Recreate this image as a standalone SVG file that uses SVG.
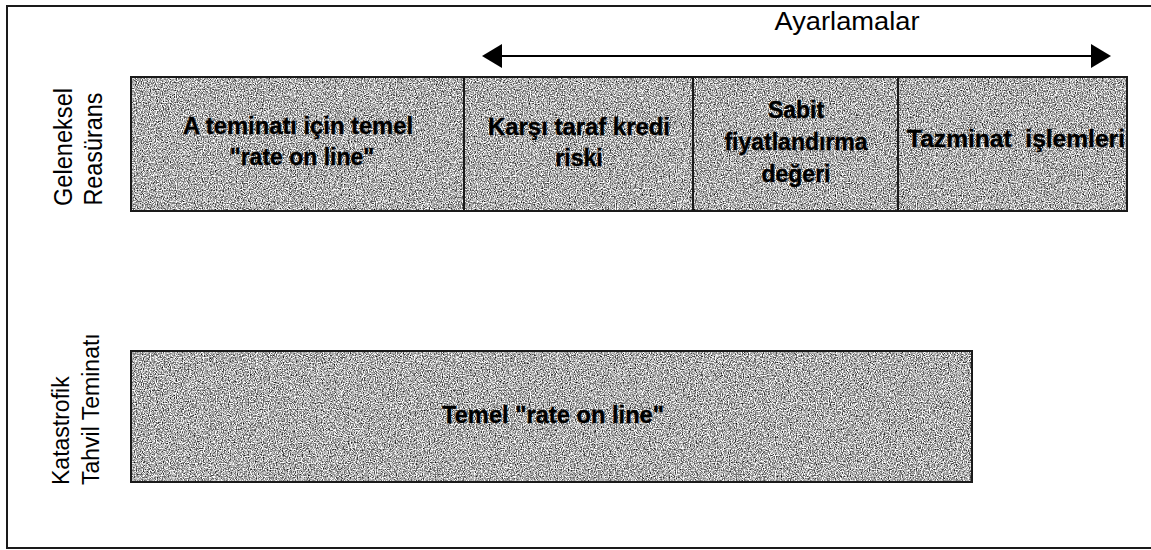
<svg xmlns="http://www.w3.org/2000/svg" width="1151" height="550" viewBox="0 0 1151 550">
  <style>
    .cell { stroke: #1a1a1a; stroke-width: 2; }
    .fill { fill: #b3b3b3; filter: url(#grain); }
    .bold { font-family: "Liberation Sans", Arial, sans-serif; font-weight: bold; font-size: 23px; fill: #000; stroke: #000; stroke-width: 0.35; text-anchor: middle; }
    .side { font-family: "Liberation Sans", Arial, sans-serif; font-size: 25px; fill: #000; }
    .side-sm { font-family: "Liberation Sans", Arial, sans-serif; font-size: 23px; fill: #000; }
    .head { font-family: "Liberation Sans", Arial, sans-serif; font-size: 26px; fill: #000; text-anchor: middle; }
  </style>
  <defs>
    <!-- stippled grey fill for the cells -->
    <filter id="grain" x="0" y="0" width="1" height="1" color-interpolation-filters="sRGB">
      <feTurbulence type="fractalNoise" baseFrequency="0.85" numOctaves="2" seed="3" result="noise"/>
      <feColorMatrix in="noise" type="matrix" values="1.9 0 0 0 -0.27  1.9 0 0 0 -0.27  1.9 0 0 0 -0.27  0 0 0 0 1" result="grey"/>
      <feComposite in="grey" in2="SourceGraphic" operator="in"/>
    </filter>
    <marker id="tip" viewBox="0 0 20 24" refX="0" refY="12" markerWidth="20" markerHeight="24" markerUnits="userSpaceOnUse" orient="auto-start-reverse">
      <path d="M0,0 L20,12 L0,24 Z" fill="#000"/>
    </marker>
  </defs>

  <rect x="0" y="0" width="1151" height="550" fill="#fff"/>
  <!-- page frame -->
  <path d="M1160,6 H7 V548 H1160" fill="none" stroke="#1a1a1a" stroke-width="2"/>

  <!-- row labels -->
  <g id="label-geleneksel">
    <text class="side" transform="translate(72,147) rotate(-90)" text-anchor="middle" textLength="118" lengthAdjust="spacingAndGlyphs">Geleneksel</text>
    <text class="side" transform="translate(102,149) rotate(-90)" text-anchor="middle" textLength="113" lengthAdjust="spacingAndGlyphs">Reasürans</text>
  </g>
  <g id="label-katastrofik">
    <text class="side-sm" transform="translate(69,485) rotate(-90)">Katastrofik</text>
    <text class="side-sm" transform="translate(99,485) rotate(-90)">Tahvil Teminatı</text>
  </g>

  <!-- adjustments span -->
  <g id="label-ayarlamalar">
    <text class="head" x="847" y="30" textLength="145" lengthAdjust="spacingAndGlyphs">Ayarlamalar</text>
  </g>
  <g id="connectors">
    <line x1="502" y1="56" x2="1091" y2="56" stroke="#000" stroke-width="2" marker-start="url(#tip)" marker-end="url(#tip)"/>
  </g>

  <!-- traditional reinsurance row -->
  <g id="base-rate">
    <rect class="fill" x="131" y="77" width="333" height="134"/>
    <rect class="cell" x="131" y="77" width="333" height="134" fill="none"/>
    <text class="bold" x="298" y="134" textLength="230" lengthAdjust="spacingAndGlyphs">A teminatı için temel</text>
    <text class="bold" x="302" y="165">"rate on line"</text>
  </g>
  <g id="credit-risk">
    <rect class="fill" x="464" y="77" width="229" height="134"/>
    <rect class="cell" x="464" y="77" width="229" height="134" fill="none"/>
    <text class="bold" x="579" y="135" textLength="182" lengthAdjust="spacingAndGlyphs">Karşı taraf kredi</text>
    <text class="bold" x="579" y="166">riski</text>
  </g>
  <g id="fixed-pricing">
    <rect class="fill" x="693" y="77" width="205" height="134"/>
    <rect class="cell" x="693" y="77" width="205" height="134" fill="none"/>
    <text class="bold" x="796" y="118">Sabit</text>
    <text class="bold" x="796" y="150">fiyatlandırma</text>
    <text class="bold" x="796" y="182">değeri</text>
  </g>
  <g id="claims">
    <rect class="fill" x="898" y="77" width="229" height="134"/>
    <rect class="cell" x="898" y="77" width="229" height="134" fill="none"/>
    <text class="bold" x="1016" y="147" textLength="218" lengthAdjust="spacingAndGlyphs" xml:space="preserve">Tazminat  işlemleri</text>
  </g>

  <!-- cat bond row -->
  <g id="cat-bond-rate">
    <rect class="fill" x="131" y="351" width="841" height="131"/>
    <rect class="cell" x="131" y="351" width="841" height="131" fill="none"/>
    <text class="bold" x="553" y="423" textLength="222" lengthAdjust="spacingAndGlyphs">Temel "rate on line"</text>
  </g>
</svg>
